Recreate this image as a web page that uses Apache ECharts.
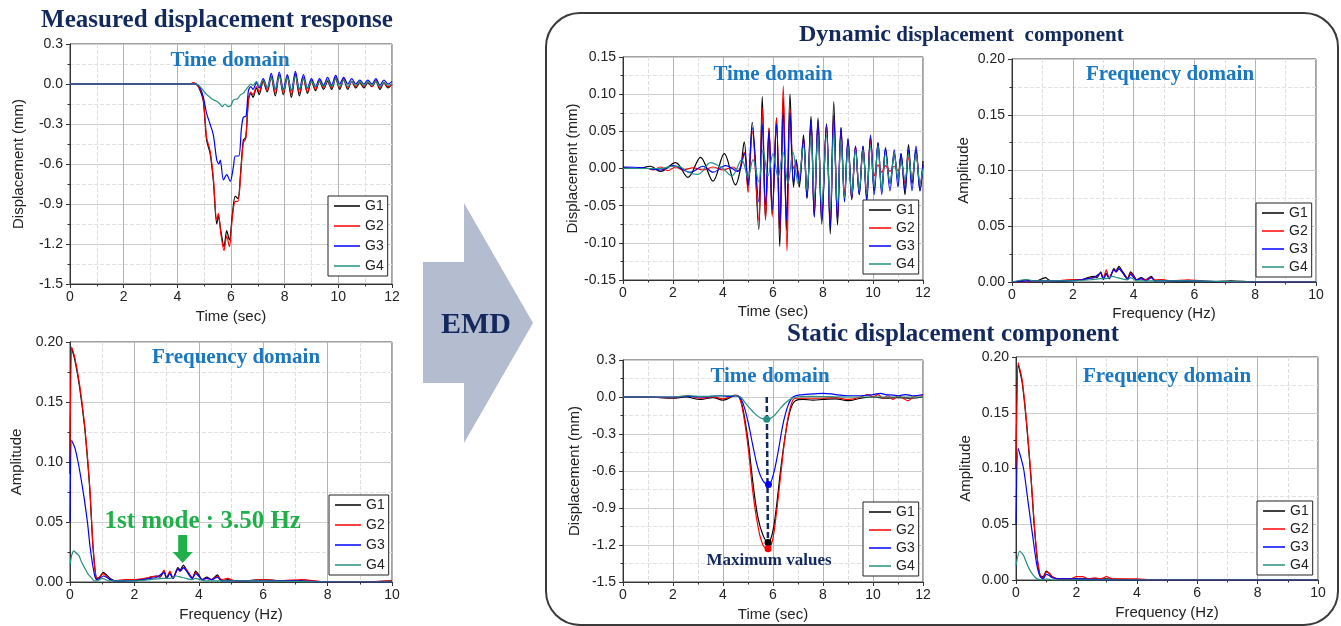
<!DOCTYPE html>
<html>
<head>
<meta charset="utf-8">
<title>EMD displacement components</title>
<script src="https://cdn.jsdelivr.net/npm/echarts@6/dist/echarts.min.js"></script>
<style>
  html, body { margin: 0; padding: 0; background: #fff; }
  #main { width: 1341px; height: 626px; }
</style>
</head>
<body>
<div id="main"></div>
<script>
// gauges and their colours
const names = ['G1', 'G2', 'G3', 'G4'];
const colors = ['#000000', '#ff0000', '#0000ff', '#23917f'];

// measured displacement response, time domain [sec, mm]
const measG1 = [[0,0],[4.6,0],[4.75,-0.01],[4.85,-0.05],[4.97,-0.13],[5.09,-0.42],[5.22,-0.52],[5.34,-0.72],[5.47,-1.05],[5.53,-0.99],[5.62,-1.1],[5.74,-1.22],[5.84,-1.1],[5.94,-1.17],[6.05,-0.98],[6.16,-0.84],[6.26,-0.86],[6.36,-0.66],[6.46,-0.42],[6.55,-0.4],[6.65,-0.12],[6.74,-0.07],[6.82,-0.1],[6.95,-0.03],[7.05,-0.08],[7.2,0.02],[7.35,-0.06],[7.5,0.05],[7.65,-0.09],[7.8,0.07],[7.95,-0.08],[8.1,0.05],[8.25,-0.1],[8.4,0.07],[8.55,-0.09],[8.7,0.04],[8.85,-0.07],[9.0,0.02],[9.15,-0.05],[9.3,0.02],[9.45,-0.04],[9.6,0.02],[9.75,-0.04],[9.9,0.04],[10.05,-0.04],[10.2,0.03],[10.35,-0.04],[10.5,0.02],[10.65,-0.03],[10.8,0.01],[10.95,-0.03],[11.1,0.01],[11.25,-0.02],[11.4,0.02],[11.55,-0.04],[11.7,0.01],[11.85,-0.03],[12,0]];
const measG2 = [[0,0],[4.5,0],[4.58,0.01],[4.7,0],[4.85,-0.04],[4.97,-0.12],[5.09,-0.4],[5.22,-0.5],[5.34,-0.7],[5.47,-1.02],[5.53,-0.97],[5.62,-1.12],[5.74,-1.25],[5.84,-1.14],[5.94,-1.22],[6.05,-1.0],[6.16,-0.88],[6.26,-0.88],[6.36,-0.68],[6.46,-0.44],[6.55,-0.41],[6.65,-0.12],[6.74,-0.06],[6.82,-0.08],[6.95,-0.02],[7.05,-0.06],[7.2,0.03],[7.35,-0.05],[7.5,0.06],[7.65,-0.07],[7.8,0.07],[7.95,-0.07],[8.1,0.06],[8.25,-0.08],[8.4,0.08],[8.55,-0.07],[8.7,0.05],[8.85,-0.06],[9.0,0.03],[9.15,-0.04],[9.3,0.03],[9.45,-0.03],[9.6,0.03],[9.75,-0.03],[9.9,0.05],[10.05,-0.03],[10.2,0.04],[10.35,-0.03],[10.5,0.02],[10.65,-0.02],[10.8,0.02],[10.95,-0.02],[11.1,0.02],[11.25,-0.02],[11.4,0.03],[11.55,-0.03],[11.7,0.01],[11.85,-0.02],[12,0]];
const measG3 = [[0,0],[4.7,0],[4.85,-0.03],[4.97,-0.1],[5.09,-0.22],[5.22,-0.3],[5.34,-0.38],[5.47,-0.57],[5.55,-0.6],[5.6,-0.57],[5.72,-0.72],[5.84,-0.68],[5.97,-0.73],[6.09,-0.62],[6.16,-0.54],[6.29,-0.54],[6.39,-0.33],[6.46,-0.25],[6.56,-0.24],[6.65,-0.05],[6.74,-0.02],[6.82,-0.04],[6.95,0.01],[7.05,-0.03],[7.2,0.04],[7.35,-0.03],[7.5,0.08],[7.65,-0.04],[7.8,0.09],[7.95,-0.04],[8.1,0.07],[8.25,-0.05],[8.4,0.095],[8.55,-0.04],[8.7,0.07],[8.85,-0.03],[9.0,0.04],[9.15,-0.02],[9.3,0.04],[9.45,-0.01],[9.6,0.05],[9.75,-0.01],[9.9,0.065],[10.05,0],[10.2,0.05],[10.35,0],[10.5,0.04],[10.65,0],[10.8,0.03],[10.95,0],[11.1,0.03],[11.25,0],[11.4,0.04],[11.55,-0.01],[11.7,0.03],[11.85,0],[12,0.02]];
const measG4 = [[0,0],[4.7,0],[4.85,-0.02],[4.97,-0.05],[5.1,-0.08],[5.22,-0.1],[5.35,-0.12],[5.47,-0.13],[5.59,-0.15],[5.67,-0.17],[5.78,-0.15],[5.9,-0.17],[6.0,-0.16],[6.09,-0.12],[6.24,-0.11],[6.36,-0.08],[6.45,-0.07],[6.53,-0.05],[6.65,-0.02],[6.74,0],[6.82,-0.01],[6.95,0.02],[7.05,-0.02],[7.2,0.03],[7.35,-0.03],[7.5,0.05],[7.65,-0.04],[7.8,0.06],[7.95,-0.05],[8.1,0.05],[8.25,-0.05],[8.4,0.06],[8.55,-0.04],[8.7,0.04],[8.85,-0.03],[9.0,0.02],[9.15,-0.02],[9.3,0.02],[9.45,-0.02],[9.6,0.03],[9.75,-0.02],[9.9,0.04],[10.05,-0.02],[10.2,0.03],[10.35,-0.02],[10.5,0.02],[10.65,-0.01],[10.8,0.02],[10.95,-0.01],[11.1,0.02],[11.25,-0.01],[11.4,0.02],[11.55,-0.02],[11.7,0.01],[11.85,-0.01],[12,0]];

// measured displacement response, frequency domain [Hz, amplitude]
const measFqG1 = [[0,0.09],[0.05,0.195],[0.15,0.185],[0.3,0.162],[0.45,0.13],[0.55,0.1],[0.62,0.075],[0.7,0.035],[0.77,0.012],[0.83,0.003],[0.92,0.004],[1.03,0.008],[1.13,0.006],[1.25,0.003],[1.4,0.001],[1.7,0.001],[2.0,0.002],[2.3,0.002],[2.5,0.004],[2.7,0.005],[2.8,0.004],[2.92,0.009],[3.0,0.003],[3.1,0.008],[3.2,0.003],[3.35,0.012],[3.42,0.01],[3.52,0.014],[3.62,0.01],[3.72,0.006],[3.8,0.003],[3.9,0.009],[4.0,0.006],[4.1,0.002],[4.25,0.004],[4.4,0.002],[4.58,0.006],[4.7,0.001],[4.9,0.002],[5.1,0.001],[5.5,0.001],[6.0,0.002],[6.5,0.001],[7.2,0.001],[8,0],[9,0],[10,0.001]];
const measFqG2 = [[0,0.1],[0.05,0.196],[0.15,0.187],[0.3,0.164],[0.45,0.132],[0.55,0.102],[0.62,0.077],[0.7,0.036],[0.77,0.012],[0.83,0.003],[0.92,0.004],[1.03,0.007],[1.13,0.005],[1.25,0.002],[1.4,0.001],[1.7,0.002],[2.0,0.002],[2.3,0.003],[2.5,0.004],[2.7,0.005],[2.8,0.005],[2.92,0.01],[3.0,0.003],[3.1,0.009],[3.2,0.003],[3.35,0.011],[3.42,0.009],[3.52,0.012],[3.62,0.01],[3.72,0.006],[3.8,0.003],[3.9,0.008],[4.0,0.005],[4.1,0.002],[4.25,0.003],[4.4,0.002],[4.58,0.005],[4.7,0.002],[4.9,0.003],[5.1,0.001],[5.5,0.001],[6.0,0.002],[6.5,0.001],[7.2,0.002],[8,0],[9,0],[10,0.001]];
const measFqG3 = [[0,0.05],[0.05,0.118],[0.15,0.112],[0.25,0.1],[0.35,0.085],[0.45,0.068],[0.55,0.048],[0.62,0.03],[0.7,0.015],[0.77,0.005],[0.83,0.002],[0.92,0.003],[1.03,0.005],[1.13,0.004],[1.25,0.002],[1.4,0.001],[2.0,0.001],[2.5,0.003],[2.7,0.004],[2.92,0.008],[3.0,0.003],[3.1,0.007],[3.2,0.003],[3.35,0.011],[3.42,0.009],[3.52,0.012],[3.62,0.009],[3.72,0.005],[3.8,0.003],[3.9,0.007],[4.0,0.005],[4.1,0.002],[4.25,0.003],[4.4,0.002],[4.58,0.004],[4.7,0.001],[5,0.001],[6,0.001],[7,0.001],[8,0],[10,0]];
const measFqG4 = [[0,0.014],[0.05,0.022],[0.12,0.026],[0.2,0.024],[0.28,0.022],[0.35,0.017],[0.45,0.012],[0.55,0.007],[0.65,0.004],[0.75,0.001],[0.85,0.001],[1.0,0.003],[1.2,0.001],[2.0,0.001],[2.5,0.002],[2.9,0.003],[3.1,0.003],[3.3,0.005],[3.45,0.004],[3.6,0.003],[3.8,0.002],[3.9,0.003],[4.2,0.001],[5,0.001],[6,0.001],[8,0],[10,0]];

// dynamic displacement component, time domain [sec, mm]
const dynG1 = [[0,0.001],[0.6,0],[1.1,0.003],[1.5,-0.004],[2.1,0.008],[2.6,-0.012],[3.1,0.015],[3.6,-0.017],[4.05,0.02],[4.5,-0.022],[4.7,0],[4.85,0.036],[5.0,-0.025],[5.17,0.062],[5.43,-0.082],[5.57,0.097],[5.7,-0.068],[5.84,0.054],[5.97,-0.062],[6.14,0.068],[6.27,-0.105],[6.41,0.095],[6.54,-0.083],[6.68,0.1],[6.82,-0.025],[6.93,0.012],[7.05,-0.025],[7.22,0.045],[7.36,-0.04],[7.52,0.07],[7.65,-0.065],[7.8,0.068],[7.95,-0.075],[8.14,0.06],[8.29,-0.088],[8.43,0.09],[8.58,-0.076],[8.72,0.055],[8.86,-0.04],[9.0,0.04],[9.15,-0.042],[9.3,0.028],[9.45,-0.035],[9.6,0.03],[9.75,-0.04],[9.9,0.042],[10.05,-0.03],[10.2,0.035],[10.35,-0.03],[10.5,0.026],[10.68,-0.02],[10.85,0.018],[11.0,-0.015],[11.12,0.02],[11.28,-0.035],[11.42,0.032],[11.56,-0.02],[11.72,0.025],[11.88,-0.03],[12,0.01]];
const dynG2 = [[0,0],[1.0,0],[1.2,-0.002],[1.5,0.002],[1.8,-0.003],[2.1,0.002],[2.4,-0.002],[2.8,0.001],[3.2,-0.002],[3.6,0.002],[4.0,-0.002],[4.4,0.002],[4.6,-0.003],[4.85,0.022],[5.0,-0.032],[5.17,0.05],[5.43,-0.07],[5.57,0.082],[5.7,-0.07],[5.84,0.055],[5.97,-0.065],[6.14,0.068],[6.27,-0.09],[6.41,0.111],[6.56,-0.111],[6.68,0.08],[6.82,0],[6.93,0.008],[7.05,-0.015],[7.22,0.04],[7.36,-0.035],[7.52,0.06],[7.65,-0.06],[7.8,0.06],[7.95,-0.065],[8.14,0.058],[8.29,-0.075],[8.43,0.07],[8.58,-0.068],[8.72,0.05],[8.86,-0.035],[9.0,0.035],[9.15,-0.04],[9.3,0.03],[9.45,-0.03],[9.6,0.028],[9.75,-0.035],[9.9,0.04],[10.05,-0.01],[10.2,0.005],[10.35,-0.005],[10.5,0.004],[10.68,-0.004],[10.85,0.003],[11.0,-0.003],[11.12,0.01],[11.28,-0.02],[11.42,0.015],[11.56,-0.015],[11.72,0.02],[11.88,-0.02],[12,0.005]];
const dynG3 = [[0,0.002],[0.8,0.001],[1.5,-0.002],[2.0,0.004],[2.7,-0.005],[3.2,0.003],[3.6,-0.005],[4.1,0.004],[4.6,-0.004],[4.85,0.02],[5.0,-0.022],[5.17,0.055],[5.43,-0.045],[5.57,0.06],[5.7,-0.05],[5.84,0.05],[5.97,-0.055],[6.14,0.06],[6.27,-0.08],[6.41,0.076],[6.54,-0.07],[6.68,0.075],[6.82,-0.02],[6.93,0.008],[7.05,-0.02],[7.22,0.04],[7.36,-0.04],[7.52,0.065],[7.65,-0.065],[7.8,0.065],[7.95,-0.07],[8.14,0.06],[8.29,-0.08],[8.43,0.072],[8.58,-0.07],[8.72,0.055],[8.86,-0.045],[9.0,0.04],[9.15,-0.04],[9.3,0.03],[9.45,-0.035],[9.6,0.03],[9.75,-0.045],[9.9,0.045],[10.05,-0.035],[10.2,0.035],[10.35,-0.035],[10.5,0.028],[10.68,-0.03],[10.85,0.025],[11.0,-0.025],[11.12,0.02],[11.28,-0.03],[11.42,0.025],[11.56,-0.03],[11.72,0.03],[11.88,-0.03],[12,0.005]];
const dynG4 = [[0,0],[1.5,0],[2.0,0.003],[2.3,0.002],[2.6,-0.005],[3.0,-0.008],[3.5,0.008],[4.0,0],[4.35,-0.01],[4.75,0.012],[5.0,-0.012],[5.2,0.012],[5.43,-0.018],[5.6,0.025],[5.8,-0.01],[6.0,0.02],[6.2,-0.012],[6.4,0.022],[6.6,-0.02],[6.8,0.022],[7.0,-0.02],[7.22,0.03],[7.36,-0.03],[7.52,0.045],[7.65,-0.04],[7.8,0.045],[7.95,-0.05],[8.14,0.045],[8.29,-0.055],[8.43,0.05],[8.58,-0.05],[8.72,0.04],[8.86,-0.04],[9.0,0.03],[9.15,-0.035],[9.3,0.025],[9.45,-0.03],[9.6,0.025],[9.75,-0.035],[9.9,0.03],[10.05,-0.025],[10.2,0.03],[10.35,-0.03],[10.5,0.02],[10.68,-0.02],[10.85,0.02],[11.0,-0.015],[11.12,0.01],[11.28,-0.015],[11.42,0.02],[11.56,-0.015],[11.72,0.02],[11.88,-0.02],[12,0]];

// dynamic displacement component, frequency domain [Hz, amplitude]
const dynFqG1 = [[0,0],[0.3,0.001],[0.45,0.002],[0.6,0.001],[0.8,0.001],[1.0,0.003],[1.1,0.004],[1.2,0.002],[1.4,0],[1.8,0.001],[2.0,0.002],[2.3,0.002],[2.5,0.004],[2.7,0.005],[2.8,0.004],[2.92,0.009],[3.0,0.003],[3.1,0.008],[3.2,0.003],[3.35,0.012],[3.42,0.01],[3.52,0.014],[3.62,0.01],[3.72,0.006],[3.8,0.003],[3.9,0.009],[4.0,0.006],[4.1,0.002],[4.25,0.004],[4.4,0.002],[4.58,0.005],[4.7,0.001],[4.9,0.002],[5.1,0.001],[5.5,0],[6.0,0.001],[6.5,0],[7.2,0.001],[8,0],[10,0]];
const dynFqG2 = [[0,0],[0.5,0],[1.0,0.001],[1.5,0.001],[1.8,0.002],[2.0,0.002],[2.3,0.002],[2.5,0.003],[2.7,0.004],[2.92,0.008],[3.0,0.003],[3.1,0.011],[3.2,0.003],[3.35,0.011],[3.42,0.009],[3.52,0.012],[3.62,0.009],[3.72,0.005],[3.8,0.003],[3.9,0.008],[4.0,0.005],[4.1,0.002],[4.25,0.003],[4.4,0.002],[4.58,0.004],[4.7,0.002],[5.0,0.002],[5.2,0.001],[5.8,0.002],[6.2,0.001],[7,0],[10,0]];
const dynFqG3 = [[0,0],[0.5,0.001],[1.0,0.001],[2.0,0.001],[2.5,0.003],[2.7,0.004],[2.92,0.008],[3.0,0.002],[3.1,0.007],[3.2,0.003],[3.35,0.011],[3.42,0.009],[3.52,0.012],[3.62,0.009],[3.72,0.005],[3.8,0.002],[3.9,0.007],[4.0,0.004],[4.1,0.002],[4.25,0.003],[4.4,0.001],[4.58,0.004],[4.7,0.001],[5,0.001],[6,0.001],[7,0],[10,0]];
const dynFqG4 = [[0,0],[0.4,0.002],[0.55,0.002],[0.7,0.001],[1.0,0.001],[2.0,0.001],[2.6,0.002],[2.9,0.003],[3.1,0.003],[3.3,0.005],[3.45,0.004],[3.6,0.003],[3.8,0.002],[3.9,0.004],[4.1,0.001],[5,0.001],[6,0.001],[8,0],[10,0]];

// static displacement component, time domain [sec, mm]
const statG1 = [[0,0],[1,0],[2,-0.01],[2.5,0],[3.1,-0.02],[3.6,-0.005],[4.0,-0.025],[4.5,0.01],[4.65,0],[4.8,-0.1],[5.0,-0.35],[5.2,-0.7],[5.4,-0.98],[5.6,-1.12],[5.8,-1.18],[5.97,-1.11],[6.12,-0.92],[6.3,-0.6],[6.5,-0.3],[6.7,-0.1],[6.9,-0.03],[7.2,-0.02],[7.6,-0.025],[8.0,-0.02],[8.5,-0.015],[9.0,-0.03],[9.5,-0.01],[10,0],[10.5,-0.01],[11,-0.005],[11.5,-0.01],[12,0]];
const statG2 = [[0,0],[1,0],[2,-0.005],[2.6,0.01],[3.1,-0.01],[3.6,0],[4.0,-0.015],[4.5,0.015],[4.65,0],[4.8,-0.12],[5.0,-0.4],[5.2,-0.78],[5.4,-1.05],[5.6,-1.2],[5.8,-1.23],[5.97,-1.17],[6.12,-0.97],[6.3,-0.65],[6.5,-0.3],[6.7,-0.08],[6.9,-0.01],[7.5,-0.01],[8.0,-0.01],[8.5,-0.005],[9.0,-0.02],[9.5,0],[9.8,0.02],[10.0,0],[10.2,0.02],[10.4,-0.01],[10.6,0.01],[10.8,-0.02],[11.0,0.01],[11.2,-0.01],[11.4,-0.03],[11.6,0],[11.8,0.01],[12,0.01]];
const statG3 = [[0,0],[1,0],[2,0],[2.6,0.005],[3.2,0],[3.9,0.01],[4.3,0.005],[4.5,0.01],[4.65,0],[4.8,-0.05],[5.0,-0.2],[5.2,-0.4],[5.4,-0.58],[5.6,-0.68],[5.82,-0.71],[6.0,-0.64],[6.2,-0.45],[6.4,-0.22],[6.6,-0.07],[6.8,0],[7.2,0.02],[7.6,0.025],[8.0,0.03],[8.5,0.02],[9.0,0.01],[9.5,0.01],[10.0,0.02],[10.3,0.03],[10.5,0.02],[10.8,0.015],[11.0,0.01],[11.3,0.02],[11.6,0.01],[12,0.02]];
const statG4 = [[0,0],[2,0],[2.6,0.01],[3.2,0.005],[4.0,0.01],[4.5,0.01],[4.7,0],[4.9,-0.05],[5.2,-0.12],[5.5,-0.17],[5.75,-0.18],[6.0,-0.16],[6.3,-0.09],[6.6,-0.03],[6.9,0],[7.5,0.005],[9,0],[12,0]];

// maximum (most negative) static values, one per gauge
const statPeakT = [5.8, 5.8, 5.82, 5.75];
const statPeakV = [-1.18, -1.23, -0.71, -0.18];
const peakGuide = [[5.75, 0], [5.8, -1.2]];

// static displacement component, frequency domain [Hz, amplitude]
const statFqG1 = [[0,0.1],[0.07,0.193],[0.2,0.178],[0.35,0.14],[0.5,0.09],[0.6,0.05],[0.7,0.02],[0.8,0.004],[0.9,0.003],[1.0,0.008],[1.1,0.006],[1.2,0.003],[1.4,0.001],[2,0.001],[3,0.001],[4,0],[10,0]];
const statFqG2 = [[0,0.1],[0.07,0.195],[0.2,0.18],[0.35,0.142],[0.5,0.092],[0.6,0.052],[0.7,0.021],[0.8,0.004],[0.9,0.002],[1.0,0.007],[1.1,0.006],[1.2,0.003],[1.4,0.001],[1.8,0.001],[2.0,0.003],[2.2,0.003],[2.4,0.001],[2.6,0.002],[2.8,0.001],[3.0,0.003],[3.2,0.001],[3.5,0.001],[4.0,0.001],[4.5,0],[10,0]];
const statFqG3 = [[0,0.05],[0.07,0.118],[0.25,0.1],[0.4,0.07],[0.55,0.04],[0.68,0.015],[0.8,0.003],[0.9,0.001],[1.0,0.005],[1.1,0.004],[1.2,0.002],[1.4,0.001],[2,0.001],[3,0],[10,0]];
const statFqG4 = [[0,0.013],[0.12,0.026],[0.25,0.022],[0.4,0.012],[0.55,0.005],[0.7,0.001],[0.9,0],[1.0,0.001],[1.2,0],[10,0]];

// first mode annotation
const modeFreq = 3.5;
const modeArrowAmp = 0.0275;

const sans = 'Liberation Sans, Arial, sans-serif';
const serif = 'Liberation Serif, Times New Roman, serif';
const navy = '#13295e';
const domainBlue = '#1a77c0';
const modeGreen = '#1fb04a';

const chart = echarts.init(document.getElementById('main'));

// 0 measured time, 1 measured freq, 2 dynamic time, 3 dynamic freq, 4 static time, 5 static freq
const grids = [
  { left: 70, top: 44, width: 322, height: 240 },
  { left: 70, top: 342, width: 322, height: 240 },
  { left: 623, top: 57, width: 300, height: 223 },
  { left: 1012, top: 59, width: 304, height: 223 },
  { left: 623, top: 360, width: 300, height: 222 },
  { left: 1016, top: 357, width: 302, height: 223 }
].map(g => Object.assign(g, { show: true, borderColor: '#444', borderWidth: 1, containLabel: false, outerBoundsMode: 'none' }));

function xAxisOf (gi, max, name, gap) {
  return {
    type: 'value', gridIndex: gi, min: 0, max: max, interval: 2,
    name: name, nameLocation: 'middle', nameGap: gap,
    nameTextStyle: { fontSize: 15, color: '#222', fontFamily: sans },
    axisLine: { show: true, onZero: false, lineStyle: { color: '#333' } },
    axisTick: { show: true, length: 4, lineStyle: { color: '#333' } },
    minorTick: { show: true, splitNumber: 2, length: 2.5, lineStyle: { color: '#333' } },
    splitLine: { show: true, lineStyle: { color: '#b4b4b4' } },
    minorSplitLine: { show: true, lineStyle: { color: '#dedede', type: 'dashed' } },
    axisLabel: { fontSize: 14, color: '#222', margin: 6, fontFamily: sans }
  }
}

function yAxisOf (gi, min, max, step, digits, name, gap) {
  return {
    type: 'value', gridIndex: gi, min: min, max: max, interval: step,
    name: name, nameLocation: 'middle', nameGap: gap,
    nameTextStyle: { fontSize: 15, color: '#222', fontFamily: sans },
    axisLine: { show: true, onZero: false, lineStyle: { color: '#333' } },
    axisTick: { show: true, length: 4, lineStyle: { color: '#333' } },
    minorTick: { show: true, splitNumber: 2, length: 2.5, lineStyle: { color: '#333' } },
    splitLine: { show: true, lineStyle: { color: '#cdcdcd' } },
    minorSplitLine: { show: true, lineStyle: { color: '#e2e2e2', type: 'dashed' } },
    axisLabel: {
      fontSize: 14, color: '#222', margin: 7, fontFamily: sans,
      formatter: v => (Math.abs(v) < 1e-9 ? 0 : v).toFixed(digits)
    }
  }
}

function gaugeLines (gi, sets, smooth) {
  return sets.map((d, i) => ({
    name: names[i], type: 'line', xAxisIndex: gi, yAxisIndex: gi, data: d,
    showSymbol: false, symbol: 'none', smooth: smooth,
    lineStyle: { width: 1.2, color: colors[i] }, itemStyle: { color: colors[i] },
    emphasis: { disabled: true }, animation: false
  }))
}

function legendOf (gi, left, top, iconW, gap) {
  return {
    data: names, orient: 'vertical', left: left, top: top,
    icon: 'rect', itemWidth: iconW, itemHeight: 1.5, itemGap: gap,
    padding: [2, 4, 2, 6], borderColor: '#222', borderWidth: 1, borderRadius: 0,
    backgroundColor: '#fff', selectedMode: false,
    textStyle: { fontSize: 14, color: '#222', fontFamily: sans, lineHeight: 16 }
  }
}

function label (text, x, y, size, color, font) {
  return {
    type: 'text', x: x, y: y, z: 100,
    style: {
      text: text, fill: color, fontSize: size, fontWeight: 'bold',
      fontFamily: font || serif, align: 'center', verticalAlign: 'middle'
    }
  }
}

const series = [].concat(
  gaugeLines(0, [measG1, measG2, measG3, measG4], 0.3),
  gaugeLines(1, [measFqG1, measFqG2, measFqG3, measFqG4], 0.2),
  gaugeLines(2, [dynG1, dynG2, dynG3, dynG4], 0.35),
  gaugeLines(3, [dynFqG1, dynFqG2, dynFqG3, dynFqG4], 0.2),
  gaugeLines(4, [statG1, statG2, statG3, statG4], 0.4),
  gaugeLines(5, [statFqG1, statFqG2, statFqG3, statFqG4], 0.2)
)

// dashed guide through the static maxima
series.push({
  name: 'peakGuide', type: 'line', xAxisIndex: 4, yAxisIndex: 4, data: peakGuide,
  symbol: 'none', lineStyle: { color: navy, width: 2.5, type: [6, 3] }, z: 5, animation: false
})
// markers at the maximum values (drawn teal, blue, black, red like the source)
series.push({
  name: 'peaks', type: 'scatter', xAxisIndex: 4, yAxisIndex: 4, z: 6, symbolSize: 7,
  data: [3, 2, 0, 1].map(i => ({ value: [statPeakT[i], statPeakV[i]], itemStyle: { color: colors[i], opacity: 1 } })),
  emphasis: { disabled: true }, animation: false
})
// arrow pointing at the first mode
series.push({
  name: 'mode', type: 'scatter', xAxisIndex: 1, yAxisIndex: 1, z: 6,
  symbol: 'path://M5.5,0 L14.5,0 L14.5,17 L20,17 L10,28 L0,17 L5.5,17 Z',
  symbolSize: [20, 28], itemStyle: { color: modeGreen, opacity: 1 },
  data: [[modeFreq, modeArrowAmp]],
  label: {
    show: true, position: 'top', distance: 1, offset: [20, 0],
    formatter: '1st mode : ' + modeFreq.toFixed(2) + ' Hz',
    color: modeGreen, fontFamily: serif, fontWeight: 'bold', fontSize: 25
  },
  emphasis: { disabled: true }, animation: false
})

chart.setOption({
  animation: false,
  backgroundColor: '#fff',
  grid: grids,
  xAxis: [
    xAxisOf(0, 12, 'Time (sec)', 25),
    xAxisOf(1, 10, 'Frequency (Hz)', 25),
    xAxisOf(2, 12, 'Time (sec)', 24),
    xAxisOf(3, 10, 'Frequency (Hz)', 24),
    xAxisOf(4, 12, 'Time (sec)', 25),
    xAxisOf(5, 10, 'Frequency (Hz)', 25)
  ],
  yAxis: [
    yAxisOf(0, -1.5, 0.3, 0.3, 1, 'Displacement (mm)', 44),
    yAxisOf(1, 0, 0.2, 0.05, 2, 'Amplitude', 46),
    yAxisOf(2, -0.15, 0.15, 0.05, 2, 'Displacement (mm)', 41),
    yAxisOf(3, 0, 0.2, 0.05, 2, 'Amplitude', 41),
    yAxisOf(4, -1.5, 0.3, 0.3, 1, 'Displacement (mm)', 41),
    yAxisOf(5, 0, 0.2, 0.05, 2, 'Amplitude', 43)
  ],
  legend: [
    legendOf(0, 328, 196, 26, 4),
    legendOf(1, 329, 495, 26, 4),
    legendOf(2, 863, 200, 22, 2),
    legendOf(3, 1256, 203, 22, 2),
    legendOf(4, 863, 502, 22, 2),
    legendOf(5, 1257, 501, 22, 2)
  ],
  series: series,
  graphic: [
    // frame around the EMD results
    {
      type: 'rect', z: 0, silent: true,
      shape: { x: 546, y: 13, width: 792, height: 612, r: 34 },
      style: { fill: 'none', stroke: '#3a3a3a', lineWidth: 2 }
    },
    // EMD arrow
    {
      type: 'polygon', z: 0, silent: true,
      shape: { points: [[423, 262], [464, 262], [464, 203], [533, 323], [464, 443], [464, 383], [423, 383]] },
      style: { fill: '#b4bccf' }
    },
    label('EMD', 476, 325, 30, navy),
    label('Measured displacement response', 217, 21, 25, navy),
    label('Dynamic', 845, 35, 24, navy),
    label('displacement  component', 1010, 36, 21, navy),
    label('Static displacement component', 953, 335, 25, navy),
    label('Time domain', 230, 61, 21, domainBlue),
    label('Frequency domain', 236, 358, 21, domainBlue),
    label('Time domain', 773, 75, 21, domainBlue),
    label('Frequency domain', 1170, 75, 21, domainBlue),
    label('Time domain', 770, 377, 21, domainBlue),
    label('Frequency domain', 1167, 377, 21, domainBlue),
    label('Maximum values', 769, 561, 17, navy)
  ]
})
</script>
</body>
</html>
